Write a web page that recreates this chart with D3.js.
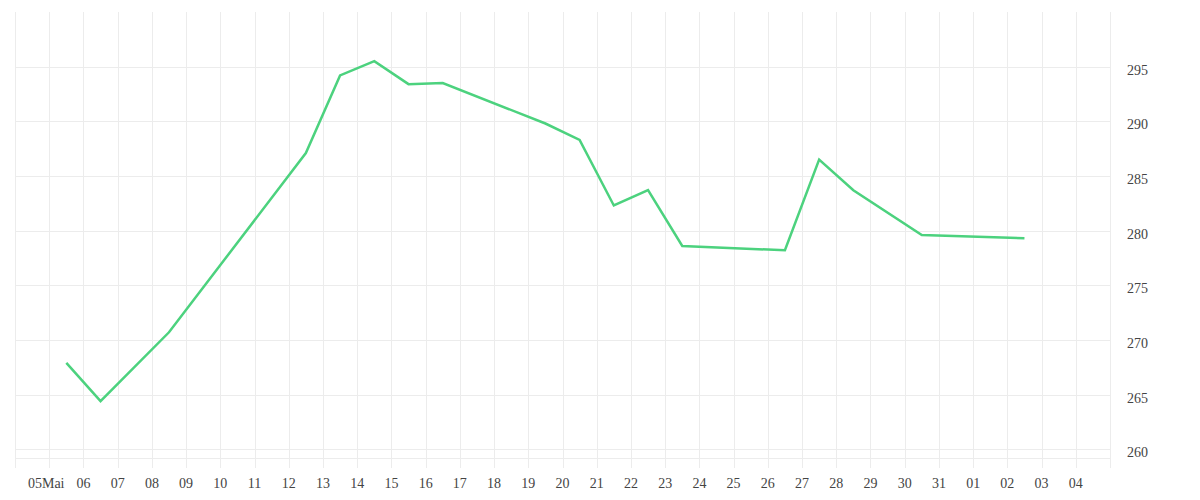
<!DOCTYPE html>
<html>
<head>
<meta charset="utf-8">
<script src="https://cdn.jsdelivr.net/npm/d3@7"></script>
<style>
  html, body { margin: 0; padding: 0; background: #fff; }
  svg { display: block; }
  text { font-family: "Liberation Serif", serif; font-size: 14px; fill: #444; }
</style>
</head>
<body>
<svg id="chart" width="1200" height="500"></svg>
<script>
// Data: dates (noon of each day) and values
const dates = [
  "2024-05-05T12:00", "2024-05-06T12:00", "2024-05-08T12:00", "2024-05-12T12:00",
  "2024-05-13T12:00", "2024-05-14T12:00", "2024-05-15T12:00", "2024-05-16T12:00",
  "2024-05-19T12:00", "2024-05-20T12:00", "2024-05-21T12:00", "2024-05-22T12:00",
  "2024-05-23T12:00", "2024-05-26T12:00", "2024-05-27T12:00", "2024-05-28T12:00",
  "2024-05-30T12:00", "2024-06-02T12:00"
];
const values = [
  267.9, 264.4, 270.7, 287.1,
  294.2, 295.5, 293.4, 293.5,
  289.8, 288.3, 282.3, 283.7,
  278.6, 278.2, 286.5, 283.7,
  279.6, 279.3
];
const yTicks = [260, 265, 270, 275, 280, 285, 290, 295];
const xStart = "2024-05-04T00:00";
const xEnd = "2024-06-05T00:00";

const parse = d3.timeParse("%Y-%m-%dT%H:%M");
const data = dates.map((d, i) => ({ date: parse(d), value: values[i] }));

const svg = d3.select("#chart");
const mLeft = 15, mRight = 1110, mTop = 12, mBottom = 458;

const x = d3.scaleTime().domain([parse(xStart), parse(xEnd)]).range([mLeft, mRight]);
const y = d3.scaleLinear().domain([259.2, 300]).range([mBottom, mTop]);

const days = d3.timeDay.range(parse(xStart), d3.timeDay.offset(parse(xEnd), 1));

// vertical grid lines (extend below plot as ticks)
svg.append("g").selectAll("line").data(days).join("line")
  .attr("x1", d => Math.round(x(d)) + 0.5).attr("x2", d => Math.round(x(d)) + 0.5)
  .attr("y1", mTop).attr("y2", mBottom + 10)
  .attr("stroke", "#ececec").attr("stroke-width", 1);

// horizontal grid lines
svg.append("g").selectAll("line").data(yTicks).join("line")
  .attr("x1", mLeft).attr("x2", mRight)
  .attr("y1", d => Math.round(y(d)) + 0.5).attr("y2", d => Math.round(y(d)) + 0.5)
  .attr("stroke", "#ececec").attr("stroke-width", 1);

// bottom line
svg.append("line")
  .attr("x1", mLeft).attr("x2", mRight)
  .attr("y1", mBottom + 0.5).attr("y2", mBottom + 0.5)
  .attr("stroke", "#ececec");

// x labels
const labelDays = days.filter(d => d > parse(xStart) && d < parse(xEnd));
const fmtDay = d3.timeFormat("%d");
svg.append("g").selectAll("text").data(labelDays).join("text")
  .attr("x", (d, i) => x(d) + (i === 0 ? -3 : 0))
  .attr("y", 487.5)
  .attr("text-anchor", "middle")
  .text((d, i) => i === 0 ? fmtDay(d) + "Mai" : fmtDay(d));

// y labels
svg.append("g").selectAll("text").data(yTicks).join("text")
  .attr("x", mRight + 17)
  .attr("y", d => y(d) + 8)
  .attr("text-anchor", "start")
  .text(d => d);

// line
const line = d3.line().x(d => x(d.date)).y(d => y(d.value));
svg.append("path").datum(data)
  .attr("d", line)
  .attr("fill", "none")
  .attr("stroke", "#4cd27e")
  .attr("stroke-width", 2.5)
  .attr("stroke-linejoin", "miter");
</script>
</body>
</html>
